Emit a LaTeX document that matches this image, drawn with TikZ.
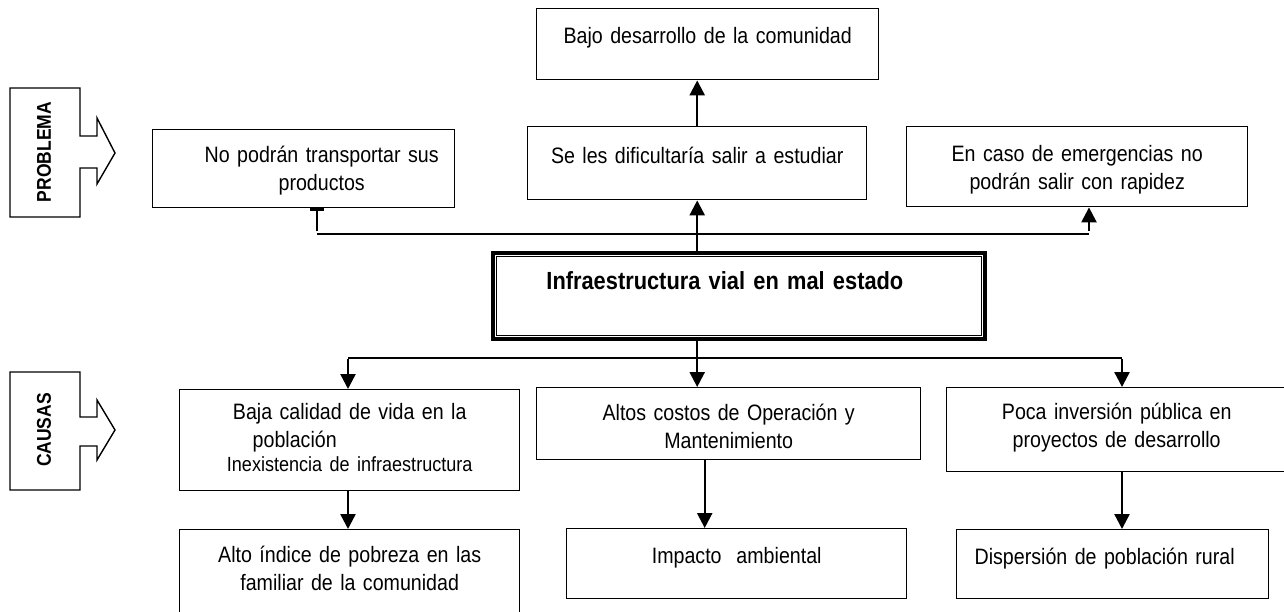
\documentclass[tikz,border=0pt]{standalone}
\usepackage{fontspec}
\setmainfont{Liberation Sans}[FakeStretch=0.88]
\usetikzlibrary{arrows.meta}
\begin{document}
\begin{tikzpicture}[x=1pt,y=-1pt,
  box/.style={draw, line width=1.4pt, rectangle, inner sep=0pt, align=center,
    anchor=north west, font=\fontsize{22.3}{27.5}\selectfont},
  corebox/.style={box, line width=4.8pt, font=\bfseries\fontsize{24.8}{29}\selectfont},
  sidelabel/.style={rotate=90, font=\bfseries\fontsize{19.9}{22}\selectfont, inner sep=0pt},
  tagshape/.style={draw, line width=1.4pt, line join=miter},
  arr/.style={line width=2.4pt, -{Triangle[length=15pt,width=15pt]}},
  flatarr/.style={line width=2.4pt, -{Rectangle[length=3pt,width=14pt]}},
  conn/.style={line width=1.5pt}
]
\useasboundingbox (0,0) rectangle (1284,611);
\clip (0,0) rectangle (1284,611);

% side tags
\draw[tagshape] (10,88) -- (80,88) -- (80,136) -- (97,136) -- (97,118) -- (115,153)
  -- (97,184) -- (97,168) -- (80,168) -- (80,217) -- (10,217) -- cycle;
\node[sidelabel] (lprob) at (44,152) {PROBLEMA};
\draw[tagshape] (10,372) -- (80,372) -- (80,417) -- (97,417) -- (97,400) -- (115,430)
  -- (97,460) -- (97,446) -- (80,446) -- (80,490) -- (10,490) -- cycle;
\node[sidelabel] (lcaus) at (44,430) {CAUSAS};

% effects
\node[box, text width=342pt, text height=35pt, text depth=36pt] (top) at (536,8)
  {Bajo desarrollo de la comunidad};
\node[box, text width=339pt, text height=37pt, text depth=36pt] (e2) at (527,126)
  {Se les dificultaría salir a estudiar};
\node[box, text width=302pt, text height=33pt, text depth=45pt] (e1) at (152,129)
  {\hspace*{36pt}No podrán transportar sus\\\hspace*{36pt}productos};
\node[box, text width=341pt, text height=35pt, text depth=45pt] (e3) at (906,126)
  {En caso de emergencias no\\podrán salir con rapidez};

% core problem
\node[corebox, text width=492pt, text height=37pt, text depth=49pt] (core) at (490.5,250.5)
  {\hspace*{-28pt}Infraestructura vial en mal estado};
\draw[line width=1.3pt] ([shift={(6,6)}]core.north west) rectangle ([shift={(-6,-6)}]core.south east);

% causes
\node[box, text width=340pt, text height=30pt, text depth=71pt] (c1) at (179,389)
  {Baja calidad de vida en la\\\hspace*{-110pt}población\\[-3.1pt]{\fontsize{20.5}{24}\selectfont Inexistencia de infraestructura}};
\node[box, text width=384pt, text height=33pt, text depth=39pt] (c2) at (536,387)
  {Altos costos de Operación y\\Mantenimiento};
\node[box, text width=340pt, text height=32pt, text depth=52pt] (c3) at (946,387)
  {Poca inversión pública en\\proyectos de desarrollo};

\node[box, text width=340pt, text height=33pt, text depth=63pt] (d1) at (179,529)
  {Alto índice de pobreza en las\\familiar de la comunidad};
\node[box, text width=340pt, text height=35pt, text depth=35pt] (d2) at (566,528)
  {Impacto\ \ ambiental};
\node[box, text width=312pt, text height=35pt, text depth=34pt] (d3) at (956,529)
  {\hspace*{-16pt}Dispersión de población rural};

% connectors top
\coordinate (hl) at (317,234);
\coordinate (hr) at (1089,234);
\draw[arr] (e2.north) -- (e2.north |- top.south);
\draw[conn] (hl) -- (hr);
\draw[arr] (e2.south |- core.north) -- (e2.south);
\draw[flatarr] ([yshift=3]hl) -- (hl |- e1.south);
\draw[arr] ([yshift=3]hr) -- (hr |- e3.south);

% connectors bottom
\coordinate (bl) at (348,358);
\coordinate (br) at (1122,358);
\draw[conn] (bl) -- (br);
\draw[arr] (e2.south |- core.south) -- (e2.south |- c2.north);
\draw[arr] ([yshift=-1]bl) -- (bl |- c1.north);
\draw[arr] ([yshift=-1]br) -- (br |- c3.north);
\draw[arr] (bl |- c1.south) -- (bl |- d1.north);
\draw[arr] ([xshift=-24pt]c2.south) -- ([xshift=-24pt]c2.south |- d2.north);
\draw[arr] (br |- c3.south) -- (br |- d3.north);
\end{tikzpicture}
\end{document}
